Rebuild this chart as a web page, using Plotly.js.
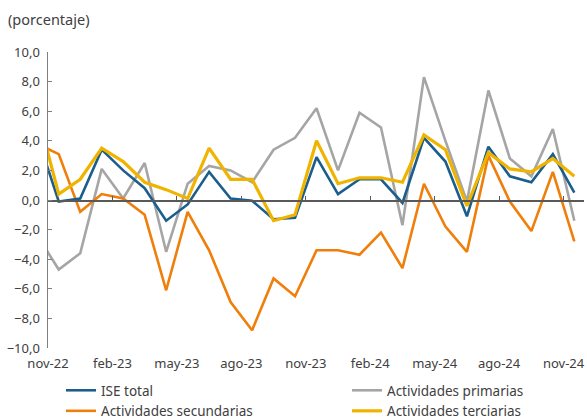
<!DOCTYPE html>
<html><head><meta charset="utf-8">
<script src="https://cdn.plot.ly/plotly-3.0.1.min.js"></script>
<style>html,body{margin:0;padding:0;background:#fff;}#c{width:587px;height:419px;}</style>
</head><body><div id="c"></div>
<script>
const months = ['oct-22','nov-22','dic-22','ene-23','feb-23','mar-23','abr-23','may-23','jun-23','jul-23','ago-23','sep-23','oct-23','nov-23','dic-23','ene-24','feb-24','mar-24','abr-24','may-24','jun-24','jul-24','ago-24','sep-24','oct-24','nov-24'];
const ise   = [4.3,-0.1,0.1,3.4,2.0,0.8,-1.4,-0.3,1.9,0.1,-0.05,-1.3,-1.2,2.9,0.4,1.4,1.4,-0.2,4.2,2.6,-1.1,3.6,1.6,1.2,3.1,0.5];
const prim  = [-2.4,-4.7,-3.6,2.1,0.1,2.5,-3.5,1.1,2.3,2.0,1.2,3.4,4.2,6.2,2.0,5.9,4.9,-1.7,8.3,4.0,-0.1,7.4,2.8,1.6,4.8,-1.4];
const sec   = [3.8,3.1,-0.8,0.4,0.1,-1.0,-6.1,-0.8,-3.4,-6.9,-8.8,-5.3,-6.5,-3.4,-3.4,-3.7,-2.2,-4.6,1.1,-1.8,-3.5,3.0,-0.1,-2.1,1.9,-2.8];
const terc  = [5.9,0.4,1.4,3.5,2.6,1.2,0.7,0.1,3.5,1.4,1.4,-1.4,-1.0,4.0,1.1,1.5,1.5,1.2,4.4,3.4,-0.4,3.2,2.1,1.9,2.8,1.6];
const tickLabels = ['nov-22','feb-23','may-23','ago-23','nov-23','feb-24','may-24','ago-24','nov-24'];

const base = months.indexOf('nov-22');
const x = months.map((m,i)=> i - base);
const tickPos = tickLabels.map(t => months.indexOf(t) - base - 0.5);

const mk = (name, y, color, w, leg, rank) => ({type:'scatter', mode:'lines', name, x, y, legend:leg, legendrank:rank,
  line:{color, width:w}, hoverinfo:'skip'});
const data = [
  mk('Actividades primarias', prim, '#A5A5A5', 2.6, 'legend2', 1),
  mk('Actividades secundarias', sec, '#F07E0A', 2.6, 'legend', 2),
  mk('ISE total', ise, '#1B5E8C', 2.6, 'legend', 1),
  mk('Actividades terciarias', terc, '#F0B400', 3.2, 'legend2', 2)
];
const legFont = {family:'"Noto Sans", sans-serif', size:13.5, color:'#404040'};
const legTop = (419-375)/419;
const legCommon = {orientation:'h', xref:'container', yref:'container', xanchor:'left',
  y:legTop, yanchor:'top', itemwidth:30, font:legFont, traceorder:'normal',
  entrywidth:260, entrywidthmode:'pixels', bgcolor:'rgba(0,0,0,0)'};
const layout = {
  width:587, height:419, paper_bgcolor:'#fff', plot_bgcolor:'#fff',
  margin:{l:48, r:3, t:52, b:71},
  font: {family:'"Noto Sans", sans-serif', size:13, color:'#404040'},
  separators: ',.',
  showlegend:true,
  title:{text:'(porcentaje)', font:{family:'"Noto Sans", sans-serif', size:14.5, color:'#404040'},
    xref:'container', yref:'container', x:8/587, xanchor:'left', y:1-20/419, yanchor:'middle'},
  xaxis:{range:[-0.5,24.45], tickvals:tickPos, ticktext:tickLabels, showline:false, ticks:'',
    showgrid:false, zeroline:false, ticklabelstandoff:6, fixedrange:true},
  xaxis2:{range:[-0.5,24.45], overlaying:'x', anchor:'free', position:0.5, side:'bottom',
    tickvals:tickPos, showticklabels:false, ticks:'inside', ticklen:4, tickcolor:'#595959',
    showline:true, linecolor:'#595959', linewidth:1.5, showgrid:false, zeroline:false},
  yaxis:{range:[-10,10], dtick:2, tick0:0, tickformat:'.1f', showline:true, linecolor:'#7f7f7f', linewidth:1.5,
    ticks:'inside', ticklen:4, tickcolor:'#7f7f7f', showgrid:false, zeroline:false, ticklabelstandoff:4},
  legend: Object.assign({}, legCommon, {x:61/587}),
  legend2: Object.assign({}, legCommon, {x:347/587})
};
data.push({type:'scatter', mode:'lines', x:[], y:[], xaxis:'x2', showlegend:false, hoverinfo:'skip'});
Plotly.newPlot('c', data, layout, {staticPlot:true});
</script></body></html>
